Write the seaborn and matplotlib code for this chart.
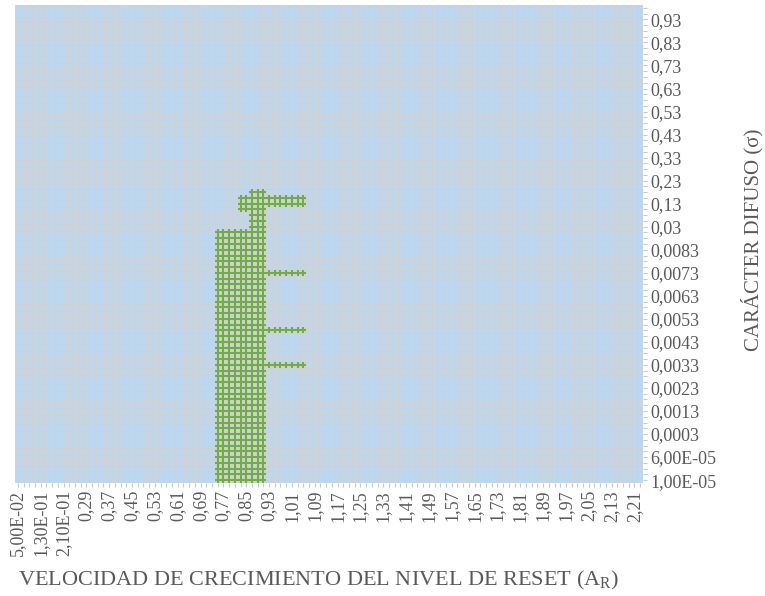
import numpy as np
import pandas as pd
import seaborn as sns
import matplotlib
matplotlib.use("Agg")
import matplotlib.pyplot as plt
from matplotlib.colors import ListedColormap

# Category labels: A_R runs 0,05 ... 2,23 in steps of 0,02 and sigma over 83 levels;
# only every fourth category carries a label.
x_labels = ["5,00E-02", "1,30E-01", "2,10E-01", "0,29", "0,37", "0,45", "0,53",
            "0,61", "0,69", "0,77", "0,85", "0,93", "1,01", "1,09", "1,17",
            "1,25", "1,33", "1,41", "1,49", "1,57", "1,65", "1,73", "1,81",
            "1,89", "1,97", "2,05", "2,13", "2,21"]
y_labels = ["1,00E-05", "6,00E-05", "0,0003", "0,0013", "0,0023", "0,0033",
            "0,0043", "0,0053", "0,0063", "0,0073", "0,0083", "0,03", "0,13",
            "0,23", "0,33", "0,43", "0,53", "0,63", "0,73", "0,83", "0,93"]
n_cols = 110
n_rows = 83
label_step = 4

# Grid nodes falling in the second zone:
# (first sigma row, last sigma row, first A_R column, last A_R column)
zone_first_row = [0, 44, 47, 48, 36, 26, 20]
zone_last_row = [43, 50, 49, 49, 36, 26, 20]
zone_first_col = [35, 41, 39, 44, 44, 44, 44]
zone_last_col = [43, 43, 40, 50, 50, 50, 50]

BLUE = "#bdd7ee"
FILL_GRAY = "#d0d4d8"
GRID_GRAY = "#d0d0d0"
GREEN = "#70ad47"
TEXT = "#595959"

plt.rcParams["font.family"] = ["Liberation Serif", "DejaVu Serif"]
plt.rcParams["mathtext.fontset"] = "custom"
plt.rcParams["mathtext.rm"] = "Liberation Serif"

zone = np.zeros((n_rows, n_cols))
for r0, r1, c0, c1 in zip(zone_first_row, zone_last_row, zone_first_col, zone_last_col):
    zone[r0:r1 + 1, c0:c1 + 1] = 1

fig = plt.figure(figsize=(7.65, 5.96), dpi=100)
ax = fig.add_axes([15 / 765, 1 - 483 / 596, (643 - 15) / 765, (483 - 5) / 596])

sns.heatmap(pd.DataFrame(np.flipud(zone)), ax=ax, cmap=ListedColormap([BLUE, FILL_GRAY]),
            vmin=0, vmax=1, cbar=False, linewidths=0.5, linecolor=GRID_GRAY,
            xticklabels=False, yticklabels=False)

# Wireframe crosses on every node of the zone
rr, cc = np.nonzero(zone)
nodes = pd.DataFrame({"x": cc + 0.5, "y": (n_rows - 1 - rr) + 0.5})
sns.scatterplot(data=nodes, x="x", y="y", marker="+", s=4.8 ** 2, color=GREEN,
                linewidth=1.5, ax=ax, legend=False, zorder=3)

ax.set_xlim(0, n_cols)
ax.set_ylim(n_rows, 0)
ax.set_xlabel("")
ax.set_ylabel("")

ax.set_xticks([c + 0.5 for c in range(0, n_cols, label_step)][:len(x_labels)])
ax.set_xticklabels(x_labels, rotation=90)
ax.set_xticks([c + 0.5 for c in range(n_cols)], minor=True)

ax.yaxis.tick_right()
ax.set_yticks([(n_rows - 1 - r) + 0.5 for r in range(0, label_step * len(y_labels), label_step)])
ax.set_yticklabels(y_labels, rotation=0)
ax.set_yticks([r + 0.5 for r in range(n_rows)], minor=True)

ax.tick_params(axis="both", which="both", length=3, width=0.8, color="#c8c8c8",
               labelcolor=TEXT, labelsize=13, pad=2)
ax.tick_params(axis="y", which="both", left=False, right=True)
for s in ax.spines.values():
    s.set_visible(False)

fig.text(18 / 765, 1 - 580 / 596,
         r"VELOCIDAD DE CRECIMIENTO DEL NIVEL DE RESET (A$_{\mathregular{R}}$)",
         ha="left", va="center", fontsize=16, color=TEXT)
fig.text(752 / 765, 1 - 240 / 596, "CARÁCTER DIFUSO (σ)", rotation=90,
         ha="center", va="center", fontsize=15, color=TEXT)

fig.savefig("out.png", dpi=100)
